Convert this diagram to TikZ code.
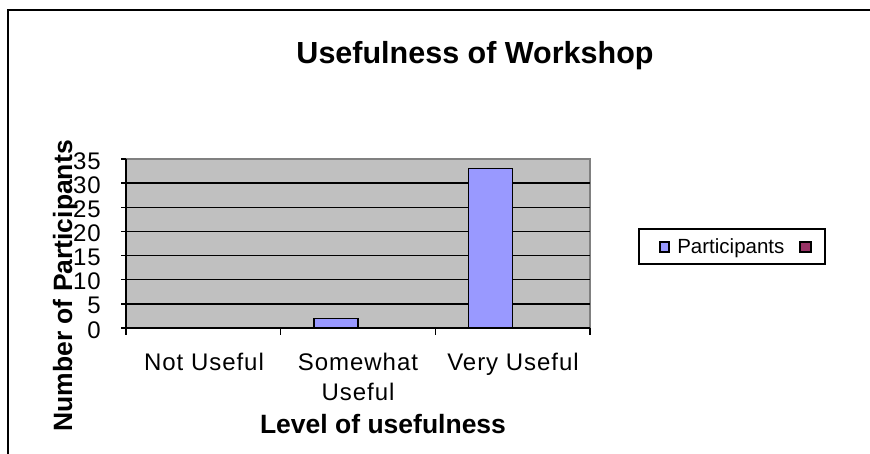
\documentclass[tikz,border=0pt]{standalone}
\usepackage{fontspec}
\setmainfont{Liberation Sans}
\usepackage{tikz}
\usetikzlibrary{positioning}

\definecolor{plotgray}{HTML}{C0C0C0}
\definecolor{plotedge}{HTML}{808080}
\definecolor{barblue}{HTML}{9999FF}
\definecolor{barplum}{HTML}{993366}

\begin{document}
\begin{tikzpicture}[x=1pt,y=-1pt,semithick]

    \tikzstyle{frame}=[line width=1.6pt]
    \tikzstyle{plotarea}=[fill=plotgray, draw=plotedge, line width=1.2pt]
    \tikzstyle{gridline}=[line width=1.4pt]
    \tikzstyle{axis}=[line width=1.4pt]
    \tikzstyle{bar}=[fill=barblue, draw=black, line width=1.2pt]
    \tikzstyle{marker}=[draw=black, line width=1.2pt]
    \tikzstyle{ticklabel}=[inner sep=0pt, font=\fontsize{24}{30}\selectfont\addfontfeatures{LetterSpace=4}]
    \tikzstyle{axistitle}=[inner sep=0pt, font=\fontsize{26.5}{30}\selectfont\bfseries]
    \tikzstyle{charttitle}=[inner sep=0pt, font=\fontsize{30.5}{36}\selectfont\bfseries]
    \tikzstyle{legendtext}=[inner sep=0pt, font=\fontsize{20.5}{24}\selectfont]

    \def \plotL {126} % left edge of the plot area
    \def \plotR {590} % right edge
    \def \plotT {159} % value 35
    \def \plotB {328} % value 0
    \def \unit {4.829} % pixels per participant
    \def \catW {154.67} % width of one category
    \def \barW {44}

    % one value on the y axis: tick and label
    \newcommand\valtick[1]{
        \draw[axis] (121,{\plotB-#1*\unit}) -- (\plotL,{\plotB-#1*\unit});
        \node[ticklabel, anchor=east] (ytick#1) at (101,{\plotB-#1*\unit+2}) {#1};
    }
    % one bar of the first series; category number, value
    \newcommand\valbar[2]{
        \draw[bar] ({\plotL+(#1-0.5)*\catW-\barW},\plotB) rectangle ({\plotL+(#1-0.5)*\catW},{\plotB-#2*\unit});
    }

    \useasboundingbox (0,0) rectangle (870,454);

    % outer frame, cut off at the right and the bottom
    \draw[frame] (870,10) -- (8,10) -- (8,454);

    \node[charttitle, anchor=base] (title) at (475,64) {Usefulness of Workshop};

    % plot area and its grid
    \draw[plotarea] (\plotL,\plotT) rectangle (\plotR,\plotB);
    \draw[gridline] (\plotL,{\plotB-5*\unit}) -- (\plotR,{\plotB-5*\unit});
    \draw[gridline] (\plotL,{\plotB-10*\unit}) -- (\plotR,{\plotB-10*\unit});
    \draw[gridline] (\plotL,{\plotB-15*\unit}) -- (\plotR,{\plotB-15*\unit});
    \draw[gridline] (\plotL,{\plotB-20*\unit}) -- (\plotR,{\plotB-20*\unit});
    \draw[gridline] (\plotL,{\plotB-25*\unit}) -- (\plotR,{\plotB-25*\unit});
    \draw[gridline] (\plotL,{\plotB-30*\unit}) -- (\plotR,{\plotB-30*\unit});

    % bars
    \valbar{2}{2}
    \valbar{3}{33}

    % axes
    \draw[axis] (\plotL,\plotT) -- (\plotL,\plotB) -- (\plotR,\plotB);
    \valtick{0}
    \valtick{5}
    \valtick{10}
    \valtick{15}
    \valtick{20}
    \valtick{25}
    \valtick{30}
    \valtick{35}
    \draw[axis] (\plotL,\plotB) -- (\plotL,335);
    \draw[axis] ({\plotL+\catW},\plotB) -- ({\plotL+\catW},335);
    \draw[axis] ({\plotL+2*\catW},\plotB) -- ({\plotL+2*\catW},335);
    \draw[axis] (\plotR,\plotB) -- (\plotR,335);

    % category labels
    \node[ticklabel, anchor=base] (notuseful) at (204,370) {Not Useful};
    \node[ticklabel, anchor=base] (somewhat) at (358,370) {Somewhat};
    \node[ticklabel, anchor=base] (somewhatb) at (358,400) {Useful};
    \node[ticklabel, anchor=base] (veryuseful) at (513,370) {Very Useful};

    % axis titles
    \node[axistitle, anchor=base] (xtitle) at (383,433) {Level of usefulness};
    \node[axistitle, anchor=base, rotate=90] (ytitle) at (72,286) {Number of Participants};

    % legend
    \draw[marker, fill=white] (639,229) rectangle (825,264);
    \draw[marker, fill=barblue] (660,242) rectangle (669,252);
    \node[legendtext, anchor=base west] (legendtext) at (677,254) {Participants};
    \draw[marker, fill=barplum] (800,242) rectangle (811,252);

\end{tikzpicture}
\end{document}
